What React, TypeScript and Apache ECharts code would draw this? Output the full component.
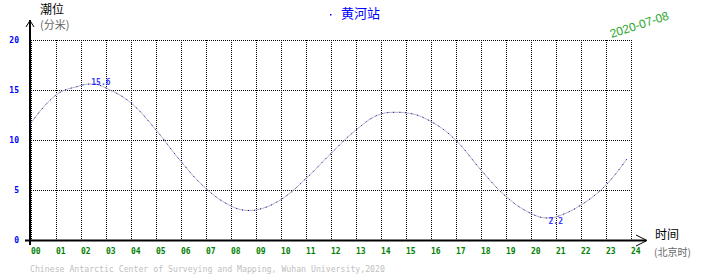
import React, { useEffect, useRef } from "react";
import * as echarts from "echarts";

const hours = [0, 1, 2, 2.45, 3, 4, 5, 6, 7, 8, 8.75, 9, 10, 11, 12, 13, 14, 14.6, 15, 16, 17, 18, 19, 20, 20.7, 21, 22, 23, 23.83];
const levels = [11.7, 14.5, 15.45, 15.6, 15.2, 13.7, 11.0, 7.85, 5.15, 3.4, 2.95, 3.0, 4.05, 6.15, 8.65, 11.0, 12.6, 12.77, 12.72, 11.85, 9.95, 7.0, 4.35, 2.65, 2.2, 2.3, 3.5, 5.5, 8.1];
const extremeHours = [2.45, 20.7];
const extremeLevels = [15.6, 2.2];
const xTickLabels = ["00", "01", "02", "03", "04", "05", "06", "07", "08", "09", "10", "11", "12", "13", "14", "15", "16", "17", "18", "19", "20", "21", "22", "23", "24"];
const yMin = 0;
const yMax = 20;
const yStep = 5;
const stationName = "黄河站";
const dateText = "2020-07-08";
const yTitle = "潮位";
const yUnit = "(分米)";
const xTitle = "时间";
const xUnit = "(北京时)";
const footer = "Chinese Antarctic Center of Surveying and Mapping, Wuhan University,2020";

const MONO = "DejaVu Sans Mono";
const CJK = "Noto Sans CJK SC";

export default function App() {
  const ref = useRef<HTMLDivElement>(null);
  useEffect(() => {
    if (!ref.current) return;
    const chart = echarts.init(ref.current, undefined, { renderer: "svg" });
    const lineData = hours.map((h, i) => [h, levels[i]]);
    const labelOffsets = [[-1, -6], [0, -1]];
    chart.setOption({
      animation: false,
      backgroundColor: "#ffffff",
      grid: { left: 31, right: 79, top: 40, bottom: 38, containLabel: false },
      xAxis: {
        type: "value",
        min: 0,
        max: 24,
        interval: 1,
        axisLine: { show: false },
        axisTick: { show: false },
        axisLabel: {
          show: true,
          margin: 7,
          align: "left",
          color: "#008000",
          fontFamily: MONO,
          fontSize: 8,
          fontWeight: "bold",
          showMinLabel: true,
          showMaxLabel: true,
          formatter: (v: number) => xTickLabels[Math.round(v)] ?? "",
        },
        splitLine: { show: true, lineStyle: { color: "#000", width: 1, type: [1, 1] } },
      },
      yAxis: {
        type: "value",
        min: yMin,
        max: yMax,
        interval: yStep,
        axisLine: { show: false },
        axisTick: { show: false },
        axisLabel: {
          margin: 12,
          color: "#0000ff",
          fontFamily: MONO,
          fontSize: 8,
          fontWeight: "bold",
          verticalAlign: "middle",
          lineHeight: 8,
          padding: [0, 0, 4, 0],
        },
        splitLine: { show: true, lineStyle: { color: "#000", width: 1, type: [1, 1] } },
      },
      series: [
        {
          type: "line",
          data: lineData,
          smooth: 0.4,
          showSymbol: false,
          lineStyle: { color: "#b4b4b4", width: 1 },
          z: 3,
        },
        {
          type: "line",
          data: lineData,
          smooth: 0.4,
          showSymbol: false,
          lineStyle: { color: "#0000ff", width: 1, type: [1, 5] },
          z: 4,
        },
        {
          type: "scatter",
          symbolSize: 0,
          z: 5,
          data: extremeHours.map((h, i) => ({
            value: [h, extremeLevels[i]],
            label: { position: labelOffsets[i] },
          })),
          label: {
            show: true,
            color: "#0000ff",
            fontFamily: MONO,
            fontSize: 8,
            fontWeight: "bold",
            formatter: (p: any) => Number(p.value[1]).toFixed(1),
          },
        },
      ],
      graphic: [
        { type: "line", shape: { x1: 30, y1: 20, x2: 30, y2: 245 }, style: { stroke: "#000", lineWidth: 2 }, z: 10 },
        { type: "polyline", shape: { points: [[26, 27], [30, 20.5], [34, 27]] }, style: { stroke: "#000", lineWidth: 1, fill: null }, z: 10 },
        { type: "line", shape: { x1: 25, y1: 240.5, x2: 646, y2: 240.5 }, style: { stroke: "#000", lineWidth: 2 }, z: 10 },
        { type: "polyline", shape: { points: [[636, 235], [647, 240.5], [636, 246]] }, style: { stroke: "#000", lineWidth: 1, fill: null }, z: 10 },
        { type: "text", x: 40, y: 2, style: { text: yTitle, fill: "#000", font: `12px "${CJK}"` }, z: 10 },
        { type: "text", x: 40, y: 18, style: { text: yUnit, fill: "#666", font: `11px "${CJK}"` }, z: 10 },
        { type: "rect", shape: { x: 330, y: 14, width: 1.5, height: 1.5 }, style: { fill: "#0000ff" }, z: 10 },
        { type: "text", x: 341, y: 6, style: { text: stationName, fill: "#0000ff", font: `13px "${CJK}"` }, z: 10 },
        { type: "text", x: 655, y: 227, style: { text: xTitle, fill: "#000", font: `12px "${CJK}"` }, z: 10 },
        { type: "text", x: 654, y: 246, style: { text: xUnit, fill: "#666", font: `10px "${CJK}"` }, z: 10 },
        {
          type: "text",
          x: 612,
          y: 40,
          rotation: (18 * Math.PI) / 180,
          style: { text: dateText, fill: "#2ea82e", font: `12px "Liberation Sans"`, verticalAlign: "bottom" },
          z: 10,
        },
        { type: "text", x: 30, y: 265, style: { text: footer, fill: "#c0c0c0", font: `8.2px "${MONO}"` }, z: 10 },
      ],
    });
    return () => chart.dispose();
  }, []);
  return <div ref={ref} style={{ position: "absolute", left: 0, top: 0, width: 710, height: 278 }} />;
}
